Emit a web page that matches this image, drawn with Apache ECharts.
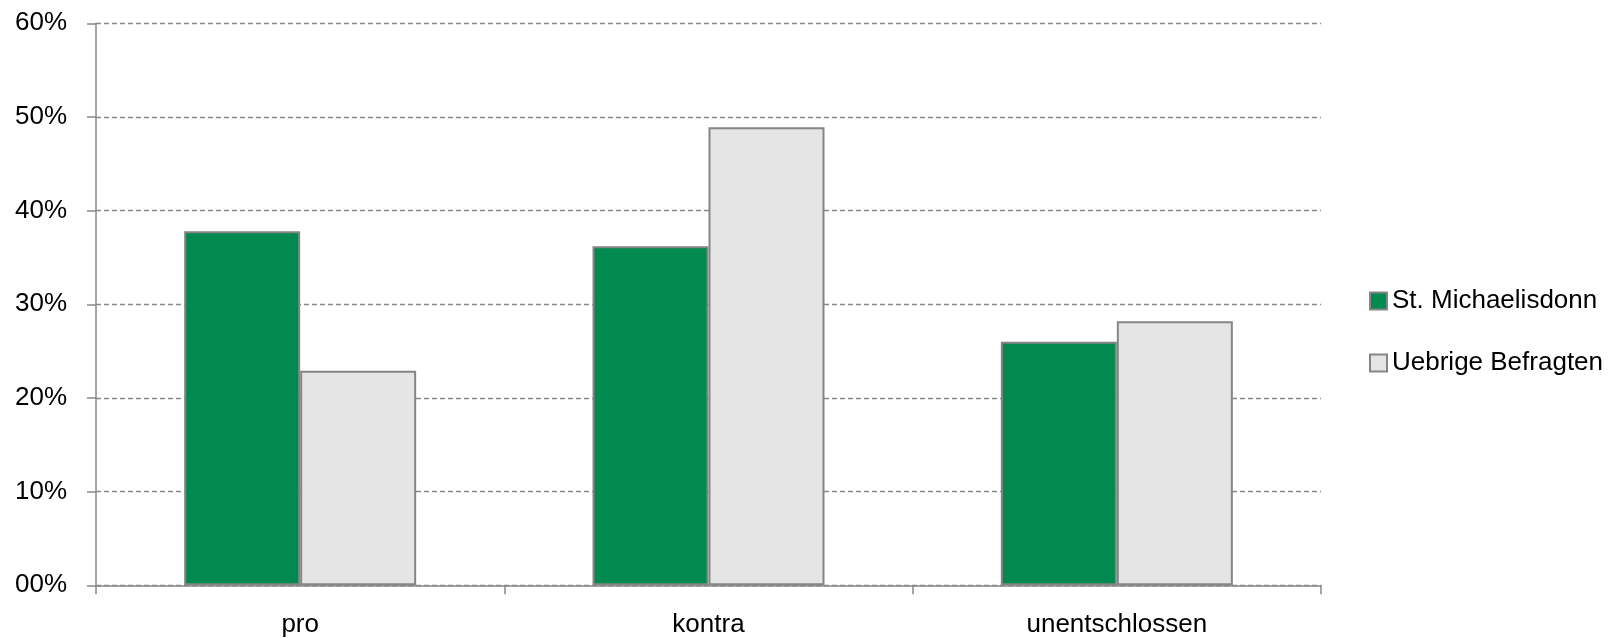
<!DOCTYPE html>
<html>
<head>
<meta charset="utf-8">
<script src="https://cdn.jsdelivr.net/npm/echarts@6/dist/echarts.min.js"></script>
<style>
html,body{margin:0;padding:0;background:#fff;}
#chart{width:1612px;height:638px;}
</style>
</head>
<body>
<div id="chart"></div>
<script>
const categories = ['pro', 'kontra', 'unentschlossen'];
const seriesNames = ['St. Michaelisdonn', 'Uebrige Befragten'];
const stMichaelisdonn = [37.8, 36.2, 26.0];
const uebrigeBefragten = [22.9, 48.9, 28.2];
const yTicks = [0, 10, 20, 30, 40, 50, 60];

const FONT = 'Liberation Sans, Arial, sans-serif';
const chart = echarts.init(document.getElementById('chart'), null, {renderer: 'canvas'});
chart.setOption({
  animation: false,
  backgroundColor: '#ffffff',
  grid: {left: 96, right: 291, top: 23.3, bottom: 52.7, containLabel: false, outerBoundsMode: 'none'},
  legend: {
    orient: 'vertical',
    left: 1364,
    top: 283,
    itemWidth: 17,
    itemHeight: 17,
    itemGap: 36,
    icon: 'rect',
    textStyle: {fontFamily: FONT, fontSize: 26, color: '#000', lineHeight: 26, padding: [0, 0, 0, 0]},
    data: seriesNames
  },
  xAxis: {
    type: 'category',
    data: categories,
    axisLine: {show: true, lineStyle: {color: '#888', width: 1.5}},
    axisTick: {show: true, length: 9, lineStyle: {color: '#888', width: 1.5}},
    axisLabel: {fontFamily: FONT, fontSize: 26, color: '#000', margin: 27}
  },
  yAxis: {
    type: 'value',
    min: yTicks[0],
    max: yTicks[yTicks.length - 1],
    interval: 10,
    axisLine: {show: true, lineStyle: {color: '#888', width: 1.5}},
    axisTick: {show: true, length: 9, lineStyle: {color: '#888', width: 1.5}},
    axisLabel: {
      fontFamily: FONT, fontSize: 26, color: '#000', margin: 29,
      formatter: v => String(v).padStart(2, '0') + '%'
    },
    splitLine: {show: true, lineStyle: {color: '#888', width: 1.3, type: [5, 3]}}
  },
  series: [
    {
      name: seriesNames[0], type: 'bar', data: stMichaelisdonn,
      barWidth: 116, barGap: '0%',
      itemStyle: {color: '#008A4F', borderColor: '#858585', borderWidth: 2}
    },
    {
      name: seriesNames[1], type: 'bar', data: uebrigeBefragten,
      barWidth: 116, barGap: '0%',
      itemStyle: {color: '#E5E5E5', borderColor: '#858585', borderWidth: 2}
    }
  ]
});
</script>
</body>
</html>
